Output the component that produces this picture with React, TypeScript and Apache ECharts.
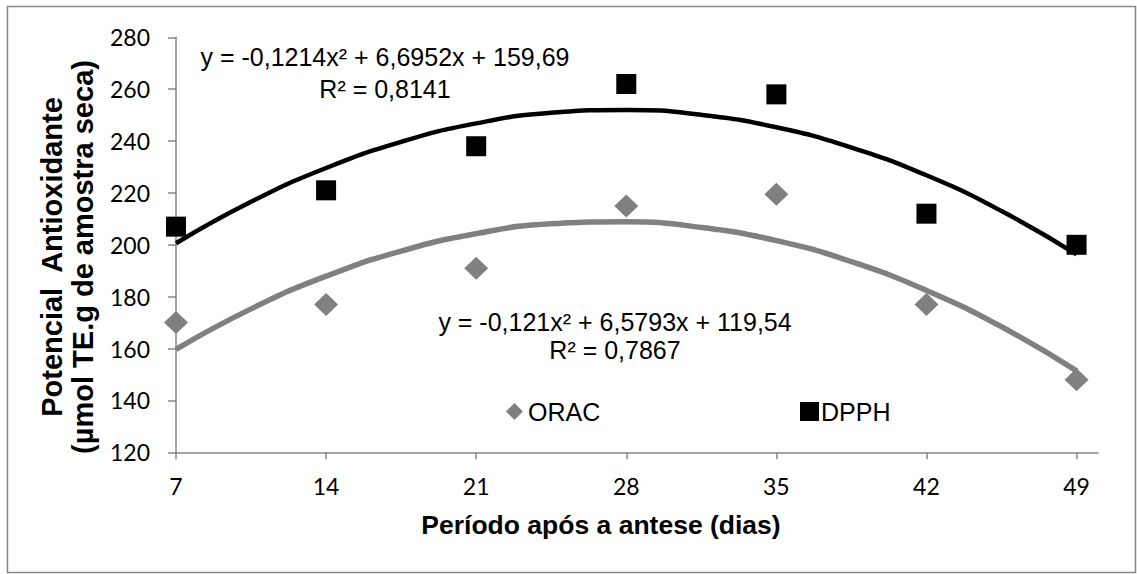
import React, { useEffect, useRef } from "react";
import * as echarts from "echarts";

const days = [7, 14, 21, 28, 35, 42, 49];
const oracValues = [170, 177, 191, 215, 219.5, 177, 148];
const dpphValues = [207, 221, 238, 262, 258, 212, 200];
const trendDays = [7, 10.5, 14, 17.5, 21, 24.5, 28, 31.5, 35, 38.5, 42, 45.5, 49];
const oracTrend = [159.7, 175.3, 187.9, 197.6, 204.3, 208.1, 208.9, 206.7, 201.6, 193.5, 182.4, 168.4, 151.4];
const dpphTrend = [200.6, 216.6, 229.6, 239.7, 246.8, 250.9, 252.0, 250.1, 245.3, 237.5, 226.8, 213.0, 196.3];
const yTicks = { min: 120, max: 280, step: 20 };
const xTickValues = [7, 14, 21, 28, 35, 42, 49];

const pairs = (xs: number[], ys: number[]) => xs.map((x, i) => [x, ys[i]]);

export default function App() {
  const ref = useRef<HTMLDivElement>(null);
  useEffect(() => {
    if (!ref.current) return;
    const chart = echarts.init(ref.current, null, { renderer: "svg" });
    const gray = "#808080";
    const axisGray = "#868686";
    const eqFont = "'Liberation Sans', Arial, sans-serif";
    chart.setOption({
      animation: false,
      backgroundColor: "#fff",
      grid: { left: 176, top: 37.3, right: 39, bottom: 121.7, containLabel: false },
      xAxis: {
        type: "value",
        min: 7,
        max: 50,
        splitLine: { show: false },
        axisLine: { show: true, onZero: false, lineStyle: { color: axisGray, width: 1.5 } },
        axisTick: { show: true, length: 7, customValues: xTickValues, lineStyle: { color: axisGray, width: 1.5 } },
        axisLabel: { customValues: xTickValues, margin: 22, fontSize: 23, color: "#000", fontFamily: "Lato, sans-serif" },
      },
      yAxis: {
        type: "value",
        min: yTicks.min,
        max: yTicks.max,
        interval: yTicks.step,
        splitLine: { show: false },
        axisLine: { show: true, lineStyle: { color: axisGray, width: 1.5 } },
        axisTick: { show: true, length: 8, lineStyle: { color: axisGray, width: 1.5 } },
        axisLabel: { margin: 26, fontSize: 23, color: "#000", fontFamily: "Lato, sans-serif" },
      },
      legend: [
        {
          data: [{ name: "ORAC", icon: "diamond" }],
          left: 506,
          top: 399,
          padding: 0,
          itemWidth: 17,
          itemHeight: 17,
          itemStyle: { opacity: 1 },
          textStyle: { fontSize: 25, color: "#000", fontFamily: eqFont },
        },
        {
          data: [{ name: "DPPH", icon: "rect" }],
          left: 800,
          top: 399,
          padding: 0,
          itemWidth: 19,
          itemHeight: 19,
          itemStyle: { opacity: 1 },
          textStyle: { fontSize: 25, color: "#000", fontFamily: eqFont, padding: [0, 0, 0, -3] },
        },
      ],
      series: [
        {
          name: "ORAC trend",
          type: "line",
          data: pairs(trendDays, oracTrend),
          smooth: true,
          showSymbol: false,
          silent: true,
          lineStyle: { color: gray, width: 5.5 },
          z: 3,
        },
        {
          name: "DPPH trend",
          type: "line",
          data: pairs(trendDays, dpphTrend),
          smooth: true,
          showSymbol: false,
          silent: true,
          lineStyle: { color: "#000", width: 4.5 },
          z: 3,
        },
        {
          name: "ORAC",
          type: "scatter",
          data: pairs(days, oracValues),
          symbol: "diamond",
          symbolSize: [24, 23],
          itemStyle: { color: gray, opacity: 1 },
          z: 2,
        },
        {
          name: "DPPH",
          type: "scatter",
          data: pairs(days, dpphValues),
          symbol: "rect",
          symbolSize: 20,
          itemStyle: { color: "#000", opacity: 1 },
          z: 2,
        },
      ],
      graphic: [
        {
          type: "rect",
          shape: { x: 7.5, y: 6.5, width: 1128, height: 566 },
          style: { fill: "none", stroke: axisGray, lineWidth: 1.5 },
          silent: true,
        },
        {
          type: "text",
          x: 385,
          y: 73,
          style: {
            text: "y = -0,1214x² + 6,6952x + 159,69\nR² = 0,8141",
            textAlign: "center",
            textVerticalAlign: "middle",
            font: `25px ${eqFont}`,
            lineHeight: 32,
            fill: "#000",
          },
        },
        {
          type: "text",
          x: 615,
          y: 336,
          style: {
            text: "y = -0,121x² + 6,5793x + 119,54\nR² = 0,7867",
            textAlign: "center",
            textVerticalAlign: "middle",
            font: `25px ${eqFont}`,
            lineHeight: 28,
            fill: "#000",
          },
        },
        {
          type: "text",
          x: 67.5,
          y: 257,
          rotation: Math.PI / 2,
          style: {
            text: "Potencial  Antioxidante\n(µmol TE.g de amostra seca)",
            textAlign: "center",
            textVerticalAlign: "middle",
            font: `bold 29px ${eqFont}`,
            lineHeight: 31,
            fill: "#000",
          },
        },
        {
          type: "text",
          x: 601,
          y: 525,
          style: {
            text: "Período após a antese (dias)",
            textAlign: "center",
            textVerticalAlign: "middle",
            font: `bold 26.5px ${eqFont}`,
            fill: "#000",
          },
        },
      ],
    });
    return () => chart.dispose();
  }, []);
  return (
    <div
      ref={ref}
      style={{ position: "fixed", left: 0, top: 0, width: 1137, height: 574 }}
    />
  );
}
